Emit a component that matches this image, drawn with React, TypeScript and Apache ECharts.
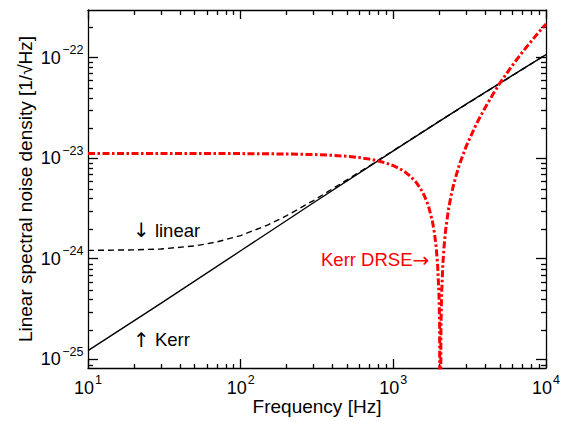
import React, { useEffect, useRef } from 'react';
import * as echarts from 'echarts';

// Kerr (solid black): frequency [Hz], noise [1/sqrt(Hz)]
const freqKerr = [10, 30, 100, 300, 1000, 3000, 10000];
const kerr = [1.22e-25, 3.6e-25, 1.2e-24, 3.6e-24, 1.18e-23, 3.45e-23, 1.07e-22];

// linear (dashed black)
const freqLinear = [10, 20, 30, 50, 70, 100, 150, 200, 300, 500, 700, 1000, 2000, 5000, 10000];
const linear = [1.21e-24, 1.225e-24, 1.25e-24, 1.34e-24, 1.47e-24, 1.7e-24, 2.16e-24, 2.68e-24, 3.79e-24, 6.12e-24, 8.39e-24, 1.19e-23, 2.33e-23, 5.55e-23, 1.07e-22];

// Kerr DRSE (red dash-dot)
const freqDrse = [10, 100, 200, 300, 400, 500, 600, 700, 800, 900, 1000, 1100, 1200, 1300, 1400, 1500, 1600, 1700, 1800, 1850, 1900, 1950, 1990, 2010, 2030, 2050, 2070, 2110, 2150, 2200, 2300, 2400, 2500, 2700, 3000, 3500, 4000, 4500, 5000, 6000, 7000, 8000, 9000, 10000];
const drse = [1.11e-23, 1.11e-23, 1.1e-23, 1.086e-23, 1.067e-23, 1.043e-23, 1.013e-23, 9.78e-24, 9.38e-24, 8.92e-24, 8.41e-24, 7.85e-24, 7.23e-24, 6.55e-24, 5.83e-24, 5.05e-24, 4.21e-24, 3.33e-24, 2.38e-24, 1.89e-24, 1.39e-24, 8.7e-25, 4.5e-25, 2.3e-25, 1e-27, 2.0e-25, 4.3e-25, 8.8e-25, 1.33e-24, 1.92e-24, 3.13e-24, 4.39e-24, 5.71e-24, 8.51e-24, 1.31e-23, 2.19e-23, 3.19e-23, 4.34e-23, 5.6e-23, 8.3e-23, 1.13e-22, 1.45e-22, 1.8e-22, 2.15e-22];

// ticks (real values)
const xMajor = [10, 100, 1000, 10000];
const xMinor = [20, 30, 40, 50, 60, 70, 80, 90, 200, 300, 400, 500, 600, 700, 800, 900, 2000, 3000, 4000, 5000, 6000, 7000, 8000, 9000];
const yMajor = [1e-25, 1e-24, 1e-23, 1e-22];
const yMinor = [9e-26, 2e-25, 3e-25, 4e-25, 5e-25, 6e-25, 7e-25, 8e-25, 9e-25, 2e-24, 3e-24, 4e-24, 5e-24, 6e-24, 7e-24, 8e-24, 9e-24, 2e-23, 3e-23, 4e-23, 5e-23, 6e-23, 7e-23, 8e-23, 9e-23, 2e-22];

const X_MIN = 10, X_MAX = 10000, Y_MIN = 8.2e-26, Y_MAX = 2.97e-22;
const FONT = 'Liberation Sans, Arial, Helvetica, sans-serif';
const ARROW_FONT = 'DejaVu Sans, Liberation Sans, sans-serif';
const BASE_SIZE = 18;
const SUP_SIZE = 12.5;

// axes are in decades (log10 of the values)
const L = (v: number) => Math.log10(v);
const pairs = (xs: number[], ys: number[]) => xs.map((x, i) => [L(x), L(ys[i])]);
const expText = (v: number) => {
  const e = Math.round(L(v));
  return e < 0 ? '\u2212' + Math.abs(e) : String(e);
};

let ctx: CanvasRenderingContext2D | null = null;
const measure = (text: string, size: number) => {
  if (!ctx) ctx = document.createElement('canvas').getContext('2d');
  ctx!.font = `${size}px "Liberation Sans"`;
  return ctx!.measureText(text).width;
};

function makeX(grid: number, pos: 'top' | 'bottom', ticks: number[], len: number, main: boolean) {
  return {
    type: 'value', gridIndex: grid, position: pos, min: L(X_MIN), max: L(X_MAX),
    axisLine: { show: main, onZero: false, lineStyle: { color: '#000', width: 1.3 } },
    axisTick: { show: true, inside: true, length: len, customValues: ticks.map(L), lineStyle: { color: '#000', width: 1.3 } },
    axisLabel: { show: false },
    splitLine: { show: false },
    name: main && pos === 'bottom' ? 'Frequency [Hz]' : '',
    nameLocation: 'middle', nameGap: 29,
    nameTextStyle: { fontSize: 19, fontFamily: FONT, color: '#000' },
  };
}
function makeY(grid: number, pos: 'left' | 'right', ticks: number[], len: number, main: boolean) {
  return {
    type: 'value', gridIndex: grid, position: pos, min: L(Y_MIN), max: L(Y_MAX),
    axisLine: { show: main, onZero: false, lineStyle: { color: '#000', width: 1.3 } },
    axisTick: { show: true, inside: true, length: len, customValues: ticks.map(L), lineStyle: { color: '#000', width: 1.3 } },
    axisLabel: { show: false },
    splitLine: { show: false },
    name: main && pos === 'left' ? 'Linear spectral noise density [1/\u221AHz]' : '',
    nameLocation: 'middle', nameGap: 53, nameRotate: 90,
    nameTextStyle: { fontSize: 19, fontFamily: FONT, color: '#000' },
  };
}

const txt = (x: number, y: number, text: string, size: number, align: string, fill = '#000') => ({
  type: 'text', x, y, silent: true,
  style: { text, fontSize: size, fontFamily: FONT, fill, align, verticalAlign: 'middle' },
});

export default function App() {
  const ref = useRef<HTMLDivElement>(null);
  useEffect(() => {
    const chart = echarts.init(ref.current!, null, { renderer: 'svg' });
    const gridPos = { left: 88, right: 25, top: 10, bottom: 52 };
    chart.setOption({
      animation: false,
      backgroundColor: '#fff',
      grid: [{ ...gridPos }, { ...gridPos }],
      xAxis: [
        makeX(0, 'bottom', xMajor, 9, true),
        makeX(0, 'top', xMajor, 9, true),
        makeX(1, 'bottom', xMinor, 5, false),
        makeX(1, 'top', xMinor, 5, false),
      ],
      yAxis: [
        makeY(0, 'left', yMajor, 10, true),
        makeY(0, 'right', yMajor, 10, true),
        makeY(1, 'left', yMinor, 5, false),
        makeY(1, 'right', yMinor, 5, false),
      ],
      series: [
        {
          type: 'line', xAxisIndex: 0, yAxisIndex: 0, data: pairs(freqKerr, kerr),
          showSymbol: false, symbol: 'none', lineStyle: { color: '#000', width: 1.4 }, z: 2,
        },
        {
          type: 'line', xAxisIndex: 0, yAxisIndex: 0, data: pairs(freqLinear, linear),
          showSymbol: false, symbol: 'none', lineStyle: { color: '#000', width: 1.4, type: [6, 4] }, z: 3,
        },
        {
          type: 'line', xAxisIndex: 0, yAxisIndex: 0, data: pairs(freqDrse, drse),
          showSymbol: false, symbol: 'none', lineStyle: { color: '#ff0000', width: 3, type: [7, 2.5, 2.5, 2.5] }, z: 4,
        },
      ],
    });

    // tick labels 10^n with real superscripts, placed at the axes' own tick positions
    const labels: any[] = [];
    const wBase = measure('10', BASE_SIZE);
    xMajor.forEach((v) => {
      const [px, py] = chart.convertToPixel({ gridIndex: 0 }, [L(v), L(Y_MIN)]) as number[];
      const sup = expText(v);
      const wSup = measure(sup, SUP_SIZE);
      const left = px - (wBase + 1 + wSup) / 2;
      labels.push(txt(left, py + 20.3, '10', BASE_SIZE, 'left'));
      labels.push(txt(left + wBase + 1, py + 11.8, sup, SUP_SIZE, 'left'));
    });
    yMajor.forEach((v) => {
      const [px, py] = chart.convertToPixel({ gridIndex: 0 }, [L(X_MIN), L(v)]) as number[];
      const sup = expText(v);
      const wSup = measure(sup, SUP_SIZE);
      const right = px - 4.5;
      labels.push(txt(right, py - 7.3, sup, SUP_SIZE, 'right'));
      labels.push(txt(right - wSup - 1.5, py + 0, '10', BASE_SIZE, 'right'));
    });

    const arrowRich = (fill: string) => ({ ar: { fontSize: 20, fontFamily: ARROW_FONT, fill } });
    const notes = [
      { type: 'text', x: 133, y: 230, style: { text: '{ar|\u2193} linear', rich: arrowRich('#000'), fontSize: 18.5, fontFamily: FONT, fill: '#000', verticalAlign: 'middle' } },
      { type: 'text', x: 133, y: 339.5, style: { text: '{ar|\u2191} Kerr', rich: arrowRich('#000'), fontSize: 18.5, fontFamily: FONT, fill: '#000', verticalAlign: 'middle' } },
      { type: 'text', x: 321, y: 259.5, style: { text: 'Kerr DRSE{ar|\u2192}', rich: arrowRich('#ff0000'), fontSize: 18.5, fontFamily: FONT, fill: '#ff0000', verticalAlign: 'middle' } },
    ];
    chart.setOption({ graphic: [...labels, ...notes] });
    return () => chart.dispose();
  }, []);
  return <div ref={ref} style={{ position: 'absolute', left: 0, top: 0, width: 571, height: 421 }} />;
}
